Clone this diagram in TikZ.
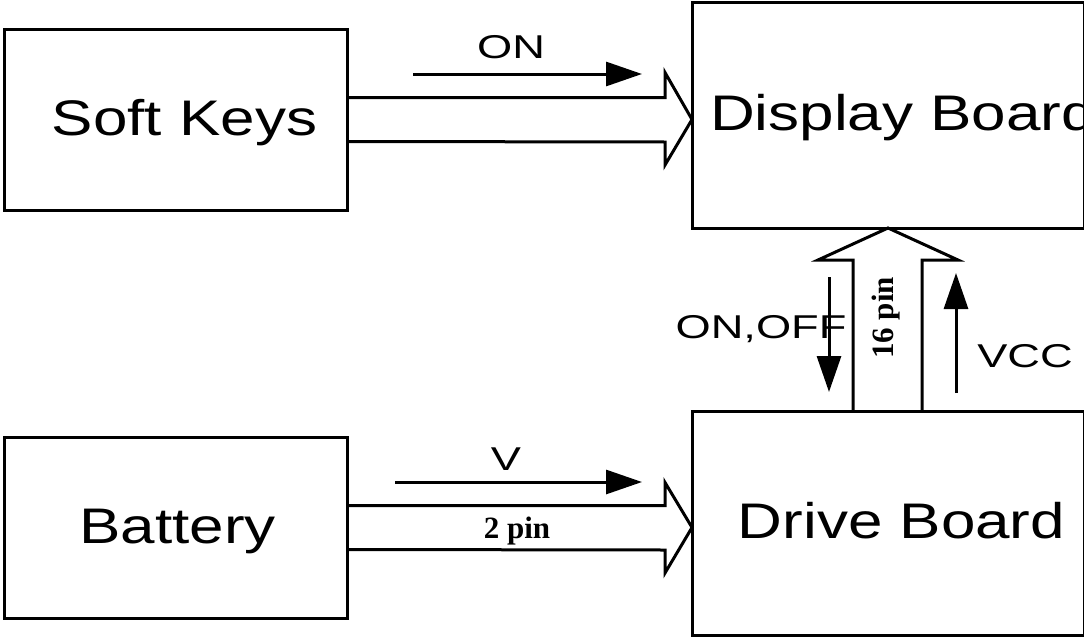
\documentclass[tikz,border=0pt]{standalone}
\usepackage{fontspec}
\usepackage{graphicx}
\setmainfont{Liberation Sans}
\newfontfamily\pinfont{Liberation Serif}
\usetikzlibrary{arrows.meta,calc}
\newcommand{\widetext}[2]{\scalebox{#1}[1]{#2}}
\tikzset{
  unit box/.style={
    rectangle, draw, line width=3pt, outer sep=0pt, inner sep=0pt
  },
  box text/.style={font=\fontsize{50}{60}\selectfont, inner sep=0pt},
  sig label/.style={font=\fontsize{33}{40}\selectfont, inner sep=0pt},
  pin label/.style={font=\pinfont\bfseries\fontsize{31}{38}\selectfont, inner sep=0pt},
  bus arrow/.style={line width=3pt},
  sig arrow/.style={-{Triangle[length=36pt,width=24pt]}, line width=3pt}
}

\begin{document}
\begin{tikzpicture}[x=1pt, y=-1pt]
    \useasboundingbox (0,0) rectangle (1084,637);
    \clip (0,0) rectangle (1084,637);

    % blocks
    \node[unit box, minimum width=343pt, minimum height=181pt] (soft) at (175.5,119.5) {};
    \node[unit box, minimum width=392pt, minimum height=226pt] (disp) at (888,115) {};
    \node[unit box, minimum width=343pt, minimum height=181pt] (batt) at (175.5,527.5) {};
    \node[unit box, minimum width=392pt, minimum height=224pt] (drive) at (888,523) {};

    \node[box text, anchor=base] (softtxt) at (184.5,135) {\widetext{1.24}{Soft Keys}};
    \node[box text, anchor=base west] (disptxt) at (710,130) {\widetext{1.24}{Display Board}};
    \node[box text, anchor=base] (batttxt) at (177.5,543) {\widetext{1.24}{Battery}};
    \node[box text, anchor=base] (drivetxt) at (901.5,538) {\widetext{1.24}{Drive Board}};

    % buses
    \draw[bus arrow] ($(soft.east)+(0,-22)$) -- ++(318,0) -- ++(0,-25)
      -- (disp.west |- soft.east) -- ++(-27,45.5) -- ++(0,-23) -- ($(soft.east)+(0,22)$);
    \draw[bus arrow] ($(batt.east)+(0,-22)$) -- ++(318,0) -- ++(0,-23)
      -- (drive.west |- batt.east) -- ++(-27,45.5) -- ++(0,-23) -- ($(batt.east)+(0,22)$);
    \draw[bus arrow] ($(drive.north)+(-35,0)$) -- ++(0,-151) -- ++(-35,0)
      -- (disp.south) -- ++(70,32) -- ++(-36,0) -- ($(drive.north)+(34,0)$);

    % signals
    \node[sig label, anchor=base] (on) at (511,58) {\widetext{1.37}{ON}};
    \coordinate (onfrom) at (413,74);
    \coordinate (onto) at (642,74);
    \draw[sig arrow] (onfrom) -- (onto);

    \node[sig label, anchor=base] (volt) at (506,470) {\widetext{1.37}{V}};
    \coordinate (voltfrom) at (395,482);
    \coordinate (voltto) at (642,482);
    \draw[sig arrow] (voltfrom) -- (voltto);

    \node[sig label, anchor=base] (onoff) at (761,338) {\widetext{1.37}{ON,OFF}};
    \coordinate (onofffrom) at (829,277);
    \coordinate (onoffto) at (829,392);
    \draw[sig arrow] (onofffrom) -- (onoffto);

    \node[sig label, anchor=base] (vcc) at (1025,367) {\widetext{1.37}{VCC}};
    \coordinate (vccfrom) at (956,393);
    \coordinate (vccto) at (956,273);
    \draw[sig arrow] (vccfrom) -- (vccto);

    \node[pin label, anchor=base] (twopin) at (517,538) {2 pin};
    \node[pin label, anchor=base, rotate=90] (sixteenpin) at (893,318) {16 pin};
\end{tikzpicture}
\end{document}
